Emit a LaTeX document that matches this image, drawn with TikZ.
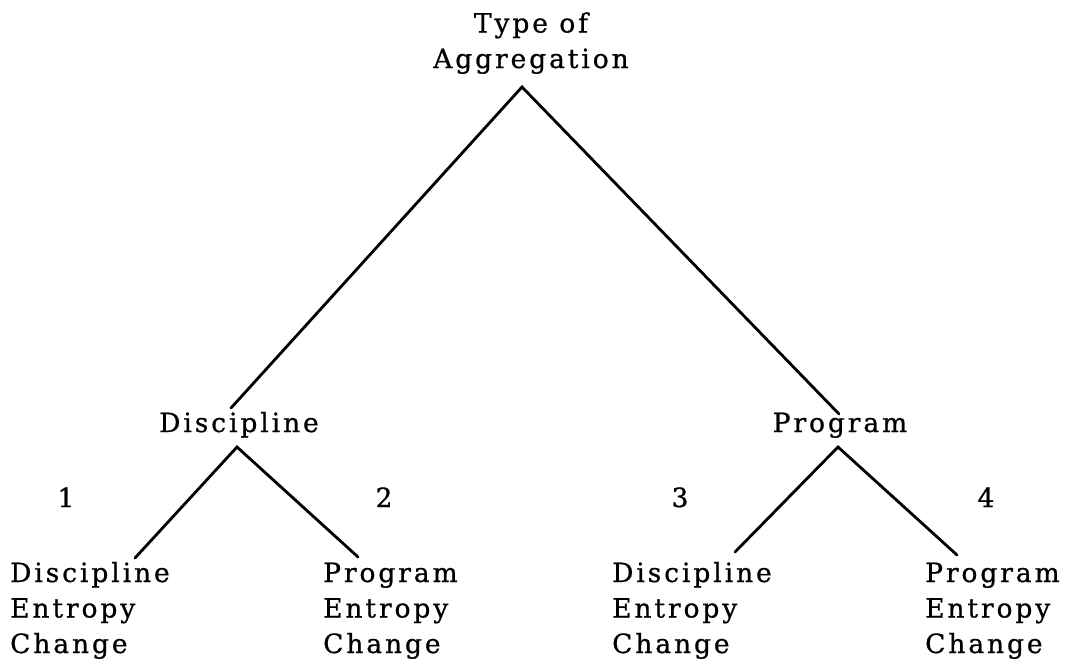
\documentclass[tikz,border=0pt]{standalone}
\usepackage{fontspec}
\setmainfont{DejaVu Serif}[LetterSpace=11, FakeBold=0.8]
\begin{document}
\begin{tikzpicture}[x=1pt,y=-1pt,
  lbl/.style={inner sep=0pt, font=\fontsize{26.5}{35.5}\selectfont},
  leaf/.style={lbl, align=left, anchor=base west},
  mid/.style={lbl, anchor=base},
  num/.style={lbl, anchor=base},
  edge/.style={line width=2.8pt, line cap=round}]
\useasboundingbox (0,0) rectangle (1073,664);
% root (anchor at baseline of last line)
\node[lbl, align=center, anchor=base] (root) at (531,68) {Type of\\Aggregation};
% middle level
\node[mid] (disc) at (239,432) {Discipline};
\node[mid] (prog) at (840,432) {Program};
% numbers
\node[num] (n1) at (66,507) {1};
\node[num] (n2) at (384,507) {2};
\node[num] (n3) at (680,507) {3};
\node[num] (n4) at (986,507) {4};
% leaves (anchor at baseline of last line)
\node[leaf] (l1) at (10,653) {Discipline\\Entropy\\Change};
\node[leaf] (l2) at (323,653) {Program\\Entropy\\Change};
\node[leaf] (l3) at (612,653) {Discipline\\Entropy\\Change};
\node[leaf] (l4) at (925,653) {Program\\Entropy\\Change};
% connector points
\coordinate (rootA) at (522,87);
\coordinate (discT) at (231,408);
\coordinate (progT) at (839,414);
\coordinate (discA) at (237,447);
\coordinate (progA) at (838,447);
\coordinate (l1T) at (135,558);
\coordinate (l2T) at (358,557);
\coordinate (l3T) at (735,552);
\coordinate (l4T) at (957,555);
\draw[edge] (discT) -- (rootA) -- (progT);
\draw[edge] (l1T) -- (discA) -- (l2T);
\draw[edge] (l3T) -- (progA) -- (l4T);
\end{tikzpicture}
\end{document}
